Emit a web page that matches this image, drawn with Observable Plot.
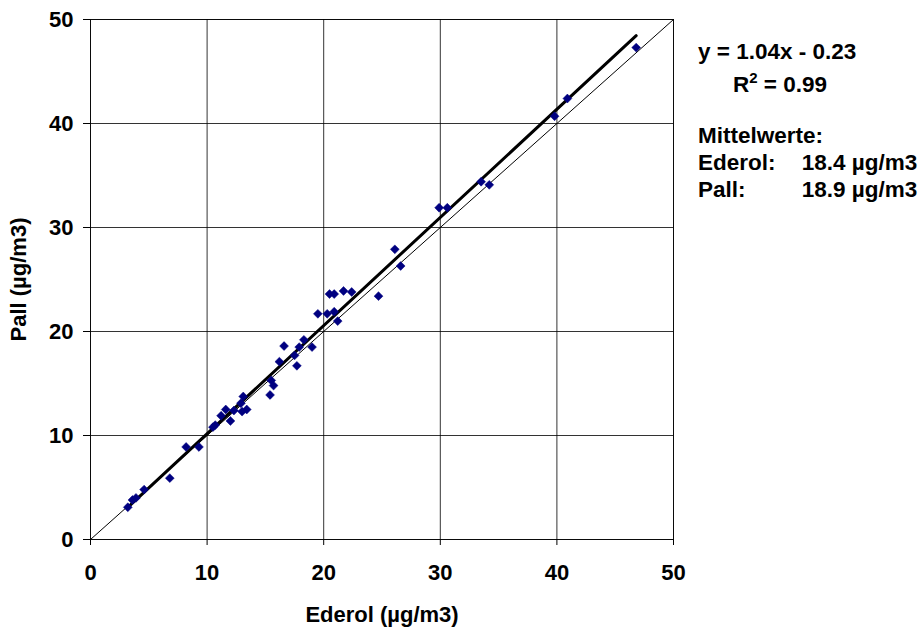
<!DOCTYPE html>
<html><head><meta charset="utf-8">
<script src="https://cdn.jsdelivr.net/npm/d3@7"></script>
<script src="https://cdn.jsdelivr.net/npm/@observablehq/plot@0.6"></script>
<style>
body{margin:0;background:#fff;}
</style>
</head><body>
<div id="chart"></div>
<script>
const ederol = [3.2,3.6,3.9,4.6,6.8,8.2,9.3,10.5,10.7,11.2,11.6,12.0,12.3,12.9,13.0,13.1,13.4,15.4,15.5,15.7,16.2,16.6,17.5,17.7,17.9,18.3,19.0,19.5,20.3,20.5,20.9,20.9,21.2,21.7,22.4,24.7,26.1,26.6,29.9,30.6,33.5,34.2,39.8,40.9,46.8];
const pall   = [3.1,3.8,4.0,4.8,5.9,8.9,8.9,10.8,11.0,11.9,12.5,11.4,12.4,13.1,12.3,13.75,12.5,13.9,15.3,14.8,17.1,18.6,17.7,16.7,18.5,19.2,18.5,21.7,21.7,23.6,23.6,21.9,21.0,23.9,23.8,23.4,27.9,26.3,31.9,31.9,34.4,34.1,40.7,42.4,47.3];
const fit = {slope: 1.04, intercept: -0.23};
const axisTicks = [0,10,20,30,40,50];
const noteLines = ["y = 1.04x - 0.23", "R² = 0.99", "Mittelwerte:", "Ederol:", "Pall:"];
const noteValues = ["18.4 µg/m3", "18.9 µg/m3"];

const points = ederol.map((x,i)=>({x, y: pall[i]}));
const xExt = d3.extent(ederol);
const fitLine = xExt.map(x=>({x, y: fit.slope*x + fit.intercept}));
const identity = [axisTicks[0], axisTicks[axisTicks.length-1]].map(v=>({x:v,y:v}));

// annotation anchors in data space (to the right of the frame)
const notes = [
  {x:52.1, y:46.9, t:noteLines[0]},
  {x:55.1, y:43.7, t:noteLines[1]},
  {x:52.1, y:38.8, t:noteLines[2]},
  {x:52.1, y:36.2, t:noteLines[3]},
  {x:52.1, y:33.6, t:noteLines[4]},
  {x:61.0, y:36.2, t:noteValues[0]},
  {x:61.0, y:33.6, t:noteValues[1]}
];

const chart = Plot.plot({
  width: 922, height: 630,
  marginLeft: 90, marginRight: 249, marginTop: 19, marginBottom: 91,
  style: {fontFamily: "'Liberation Sans', Arial, sans-serif", fontSize: "22px", fontWeight: "bold", color: "#000", background: "#fff"},
  x: {domain: [0,50], ticks: axisTicks},
  y: {domain: [0,50], ticks: axisTicks},
  marks: [
    Plot.gridX(axisTicks, {stroke: "#000", strokeOpacity: 0.8}),
    Plot.gridY(axisTicks, {stroke: "#000", strokeOpacity: 0.8}),
    Plot.frame({stroke: "#000", strokeOpacity: 0.8}),
    Plot.axisX(axisTicks, {tickSize: 6, tickPadding: 19, label: "Ederol (µg/m3)", labelAnchor: "center", labelArrow: "none", labelOffset: 82, fontSize: 22}),
    Plot.axisY(axisTicks, {tickSize: 7, tickPadding: 10, label: "Pall (µg/m3)", labelAnchor: "center", labelArrow: "none", labelOffset: 80, fontSize: 22}),
    Plot.line(identity, {x:"x", y:"y", stroke:"#000", strokeWidth: 1}),
    Plot.line(fitLine, {x:"x", y:"y", stroke:"#000", strokeWidth: 3}),
    Plot.dot(points, {x:"x", y:"y", symbol:"diamond2", r: 4, fill:"#000080", stroke:"#000080", strokeWidth: 0.5}),
    Plot.text(notes, {x:"x", y:"y", text:"t", textAnchor:"start", fontSize: 22.5, fontWeight: "bold", fill:"#000", clip: false})
  ]
});
document.getElementById("chart").appendChild(chart);

// render the "2" of R² as a real superscript
d3.select(chart).selectAll("text").each(function(){
  if (this.textContent === noteLines[1]) {
    const el = d3.select(this);
    el.text(null);
    el.append("tspan").text("R");
    el.append("tspan").attr("dy", -9).attr("font-size", 15).text("2");
    el.append("tspan").attr("dy", 9).text(" = 0.99");
  }
});
</script>
</body></html>
